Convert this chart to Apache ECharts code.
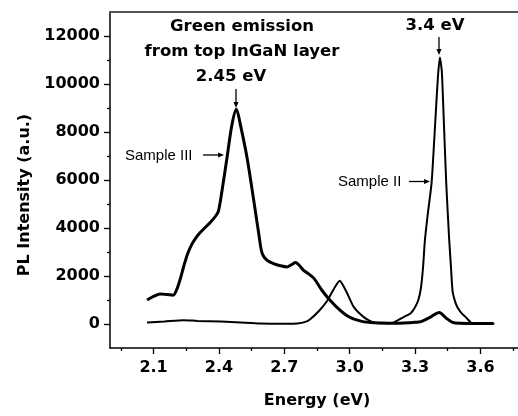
<!DOCTYPE html>
<html>
<head>
<meta charset="utf-8">
<script src="https://cdn.jsdelivr.net/npm/echarts@6/dist/echarts.min.js"></script>
<style>
	html, body { margin: 0; padding: 0; background: #fff; }
	#chart { width: 518px; height: 416px; }
</style>
</head>
<body>
<div id="chart"></div>
<script>
'use strict';

// Sample III: green emission from top InGaN layer (thick trace)
var sampleIIIEnergy = [2.07, 2.10, 2.13, 2.16, 2.19, 2.207, 2.22, 2.237, 2.255, 2.276, 2.295, 2.314, 2.34, 2.36, 2.385, 2.398,
	2.414, 2.437, 2.46, 2.48, 2.498, 2.529, 2.56, 2.583, 2.598, 2.621, 2.65, 2.682, 2.713, 2.735, 2.751, 2.765, 2.79, 2.81,
	2.836, 2.874, 2.912, 2.958, 2.99, 3.02, 3.06, 3.097, 3.15, 3.2, 3.25, 3.3, 3.327, 3.373, 3.411, 3.442, 3.472, 3.51, 3.58, 3.66];
var sampleIIIIntensity = [1000, 1150, 1250, 1230, 1200, 1450, 1800, 2355, 2900, 3330, 3600, 3810, 4050, 4230, 4500, 4715,
	5550, 6930, 8320, 8950, 8320, 6930, 5130, 3745, 2950, 2650, 2520, 2430, 2380, 2480, 2560, 2480, 2220, 2100,
	1900, 1386, 970, 553, 330, 200, 100, 60, 40, 30, 40, 70, 100, 300, 480, 250, 70, 30, 20, 20];

// Sample II: GaN band edge at 3.4 eV (thin trace)
var sampleIIEnergy = [2.07, 2.15, 2.237, 2.3, 2.41, 2.5, 2.59, 2.7, 2.76, 2.8, 2.82, 2.86, 2.897, 2.93, 2.954, 2.97, 2.99,
	3.02, 3.066, 3.1, 3.128, 3.17, 3.204, 3.25, 3.28, 3.3, 3.315, 3.327, 3.337, 3.345, 3.36, 3.376, 3.393, 3.405, 3.414,
	3.423, 3.432, 3.443, 3.457, 3.465, 3.472, 3.485, 3.495, 3.515, 3.534, 3.557, 3.6, 3.664];
var sampleIIIntensity = [60, 100, 160, 130, 100, 60, 20, 10, 20, 100, 208, 550, 970, 1500, 1800, 1600, 1250,
	690, 275, 100, 30, 30, 70, 300, 450, 700, 1000, 1500, 2400, 3470, 4700, 5890, 8460, 10300, 11100,
	10500, 8460, 5890, 3470, 2350, 1385, 900, 690, 430, 275, 60, 20, 10];

var xMajorTicks = [2.1, 2.4, 2.7, 3.0, 3.3, 3.6];
var xMinorTicks = [1.95, 2.25, 2.55, 2.85, 3.15, 3.45, 3.75];
var yMajorTicks = [0, 2000, 4000, 6000, 8000, 10000, 12000];
var yMinorTicks = [1000, 3000, 5000, 7000, 9000, 11000];

function pairs(xs, ys) {
	var out = [];
	for (var i = 0; i < xs.length; i++) {
		out.push([xs[i], ys[i]]);
	}
	return out;
}

var boldFont = 'DejaVu Sans';

function tickLabels(values, margin, fmt) {
	return {
		show: true,
		margin: margin,
		customValues: values,
		formatter: fmt,
		color: '#000',
		fontFamily: boldFont,
		fontWeight: 'bold',
		fontSize: 16
	};
}

function arrow(x1, y1, x2, y2) {
	// small line with a filled head pointing at (x2, y2)
	var dx = x2 - x1, dy = y2 - y1;
	var len = Math.sqrt(dx * dx + dy * dy);
	var ux = dx / len, uy = dy / len;
	var hx = x2 - ux * 6, hy = y2 - uy * 6;
	return [{
		type: 'line',
		shape: { x1: x1, y1: y1, x2: hx, y2: hy },
		style: { stroke: '#000', lineWidth: 1.3 }
	}, {
		type: 'polygon',
		shape: { points: [[x2, y2], [hx - uy * 2.5, hy + ux * 2.5], [hx + uy * 2.5, hy - ux * 2.5]] },
		style: { fill: '#000' }
	}];
}

function note(text, x, y, font, align) {
	return {
		type: 'text', x: x, y: y,
		style: { text: text, fill: '#000', font: font, textAlign: align, textVerticalAlign: 'middle' }
	};
}

var bigFont = 'bold 16.5px "DejaVu Sans"';
var smallFont = '15px "Liberation Sans"';

var graphics = [].concat(
	[
		note('Green emission', 242, 27, bigFont, 'center'),
		note('from top InGaN layer', 242, 52, bigFont, 'center'),
		note('2.45 eV', 231, 77, bigFont, 'center'),
		note('3.4 eV', 435, 26, bigFont, 'center'),
		note('Sample III', 125, 156, smallFont, 'left'),
		note('Sample II', 338, 182, smallFont, 'left')
	],
	arrow(236, 89, 236, 108),
	arrow(439, 37, 439, 55),
	arrow(203, 155, 224, 155),
	arrow(409, 181.5, 430, 181.5)
);

var chart = echarts.init(document.getElementById('chart'));
chart.setOption({
	animation: false,
	backgroundColor: '#fff',
	grid: { left: 110, right: -6, top: 12, bottom: 68, containLabel: false, outerBoundsMode: 'none' },
	xAxis: [{
		type: 'value',
		min: 1.9,
		max: 3.8,
		name: 'Energy (eV)',
		nameLocation: 'middle',
		nameGap: 45,
		nameTextStyle: { color: '#000', fontFamily: boldFont, fontWeight: 'bold', fontSize: 16 },
		axisLine: { show: true, onZero: false, lineStyle: { color: '#000', width: 1.5 } },
		axisTick: { show: true, length: 6, lineStyle: { color: '#000', width: 1.3 }, customValues: xMajorTicks },
		axisLabel: tickLabels(xMajorTicks, 12, function (v) { return v.toFixed(1); }),
		splitLine: { show: false }
	}, {
		type: 'value',
		min: 1.9,
		max: 3.8,
		position: 'bottom',
		axisLine: { show: false, onZero: false },
		axisTick: { show: true, length: 3, lineStyle: { color: '#000', width: 1.3 }, customValues: xMinorTicks },
		axisLabel: { show: false },
		splitLine: { show: false }
	}, {
		type: 'value',
		min: 1.9,
		max: 3.8,
		position: 'top',
		axisLine: { show: true, onZero: false, lineStyle: { color: '#555', width: 2 } },
		axisTick: { show: false },
		axisLabel: { show: false },
		splitLine: { show: false }
	}],
	yAxis: [{
		type: 'value',
		min: -1000,
		max: 13000,
		name: 'PL Intensity (a.u.)',
		nameLocation: 'middle',
		nameGap: 77,
		nameTextStyle: { color: '#000', fontFamily: boldFont, fontWeight: 'bold', fontSize: 16, padding: [0, 30, 0, 0] },
		axisLine: { show: true, onZero: false, lineStyle: { color: '#000', width: 1.5 } },
		axisTick: { show: true, length: 6, lineStyle: { color: '#000', width: 1.3 }, customValues: yMajorTicks },
		axisLabel: tickLabels(yMajorTicks, 10, function (v) { return String(v); }),
		splitLine: { show: false }
	}, {
		type: 'value',
		min: -1000,
		max: 13000,
		position: 'left',
		axisLine: { show: false, onZero: false },
		axisTick: { show: true, length: 3, lineStyle: { color: '#000', width: 1.3 }, customValues: yMinorTicks },
		axisLabel: { show: false },
		splitLine: { show: false }
	}],
	series: [{
		name: 'Sample III',
		type: 'line',
		xAxisIndex: 0,
		yAxisIndex: 0,
		smooth: 0.3,
		showSymbol: false,
		lineStyle: { color: '#000', width: 3 },
		data: pairs(sampleIIIEnergy, sampleIIIIntensity)
	}, {
		name: 'Sample II',
		type: 'line',
		xAxisIndex: 0,
		yAxisIndex: 0,
		smooth: 0.2,
		showSymbol: false,
		lineStyle: { color: '#000', width: 2 },
		data: pairs(sampleIIEnergy, sampleIIIntensity)
	}],
	graphic: graphics
});
</script>
</body>
</html>
